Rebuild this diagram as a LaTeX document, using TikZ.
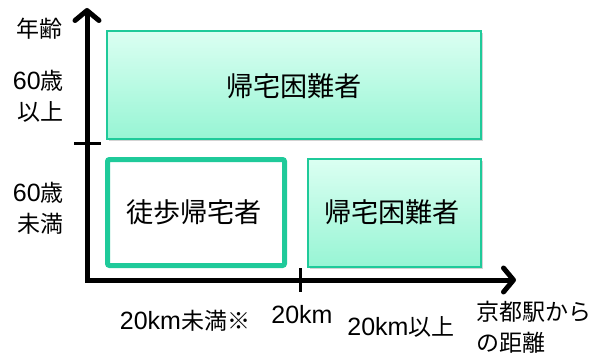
\documentclass[tikz,border=0pt]{standalone}
\usepackage{fontspec}
\setmainfont{Liberation Sans}
\newfontfamily\jp[Scale=0.92]{Noto Sans CJK JP}
\usetikzlibrary{arrows.meta,shadows}
\definecolor{boxtop}{HTML}{DBFFF2}
\definecolor{boxbot}{HTML}{97F5D4}
\definecolor{boxline}{HTML}{1FCA9A}
\tikzset{
  axis/.style={line width=5pt, line join=miter, {Straight Barb[length=10pt,width=24pt,line width=5pt,round]}-{Straight Barb[length=10pt,width=24pt,line width=5pt,round]}},
  tick/.style={line width=3pt},
  hardbox/.style={draw=boxline, line width=1.5pt, top color=boxtop, bottom color=boxbot,
    drop shadow={opacity=0.35, shadow xshift=2pt, shadow yshift=-2pt}},
  walkbox/.style={draw=boxline, line width=5pt, fill=white, rounded corners=2pt},
  boxtext/.style={font=\fontsize{29.5}{33}\selectfont\jp},
  lbl/.style={font=\fontsize{25}{31}\selectfont, inner sep=0pt},
}
\begin{document}
\begin{tikzpicture}[x=1pt,y=-1pt]
\useasboundingbox (0,0) rectangle (601,356);
% boxes
\draw[hardbox] (107,31) rectangle (481,139);
\node[boxtext] (top) at (294,86) {帰宅困難者};
\draw[walkbox] (107.5,159.5) rectangle (284.5,265.5);
\node[boxtext] (walk) at (194,212) {徒歩帰宅者};
\draw[hardbox] (308,159) rectangle (481,267);
\node[boxtext] (right) at (392,212) {帰宅困難者};
% axes
\coordinate (ytip) at (87,8);
\coordinate (origin) at (87,280);
\coordinate (xtip) at (516,280);
\draw[axis] (ytip) -- (origin) -- (xtip);
\coordinate (yt1) at (74,143);
\coordinate (yt2) at (101,143);
\draw[tick] (yt1) -- (yt2);
\coordinate (xt1) at (300,268);
\coordinate (xt2) at (300,292);
\draw[tick] (xt1) -- (xt2);
% labels
\node[lbl, anchor=east] (age) at (63,29) {\jp 年齢};
\node[lbl, anchor=east, align=right] (over) at (64,96) {60{\jp 歳}\\{\jp 以上}};
\node[lbl, anchor=east, align=right] (under) at (64,208) {60{\jp 歳}\\{\jp 未満}};
\node[lbl] (near) at (185,321) {20km{\jp 未満※}};
\node[lbl] (mid) at (302,315) {20km};
\node[lbl] (far) at (401,327) {20km{\jp 以上}};
\node[lbl, anchor=west, align=left] (dist) at (476,327) {\jp 京都駅から\\\jp の距離};
\end{tikzpicture}
\end{document}
